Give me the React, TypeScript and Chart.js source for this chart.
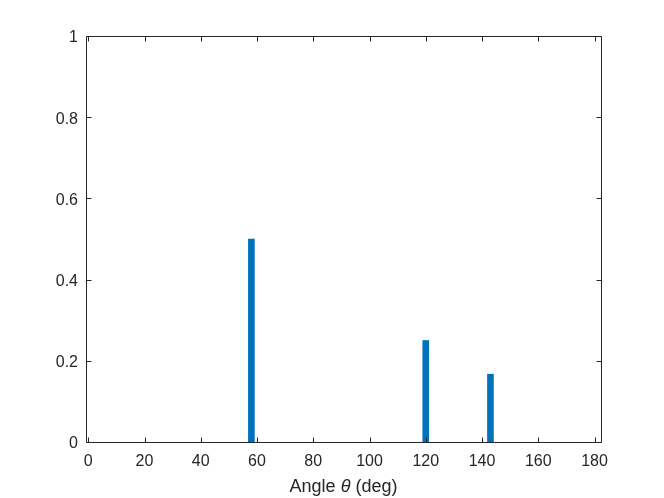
import React, { useEffect, useRef } from "react";
import { Chart, registerables } from "chart.js";

Chart.register(...registerables);

const angles = [58, 120, 143];
const values = [0.5, 0.25, 0.167];
const xTicks = [0, 20, 40, 60, 80, 100, 120, 140, 160, 180];
const yTicks = [0, 0.2, 0.4, 0.6, 0.8, 1];
const xLabelParts = ["Angle ", "θ", " (deg)"];

const AXIS = "#262626";
const FONT = "Liberation Sans, Arial, Helvetica, sans-serif";

const framePlugin = {
  id: "frame",
  afterDraw(chart: any) {
    const { ctx, chartArea } = chart;
    const { left, right, top, bottom } = chartArea;
    const xs = chart.scales.x;
    const ys = chart.scales.y;
    ctx.save();
    ctx.strokeStyle = AXIS;
    ctx.lineWidth = 1;
    ctx.beginPath();
    const L = Math.round(left) + 0.5;
    const R = Math.round(right) + 0.5;
    const T = Math.round(top) + 0.5;
    const B = Math.round(bottom) + 0.5;
    ctx.rect(L, T, R - L, B - T);
    const tl = 5;
    xTicks.forEach((v) => {
      const px = Math.round(xs.getPixelForValue(v)) + 0.5;
      ctx.moveTo(px, B);
      ctx.lineTo(px, B - tl);
      ctx.moveTo(px, T);
      ctx.lineTo(px, T + tl);
    });
    yTicks.forEach((v) => {
      const py = Math.round(ys.getPixelForValue(v)) + 0.5;
      ctx.moveTo(L, py);
      ctx.lineTo(L + tl, py);
      ctx.moveTo(R, py);
      ctx.lineTo(R - tl, py);
    });
    ctx.stroke();

    // x axis title with italic theta
    const size = 18;
    const normal = `${size}px ${FONT}`;
    const italic = `italic ${size}px ${FONT}`;
    const fonts = [normal, italic, normal];
    let total = 0;
    const widths = xLabelParts.map((t, i) => {
      ctx.font = fonts[i];
      const w = ctx.measureText(t).width;
      total += w;
      return w;
    });
    let x = (left + right) / 2 - total / 2;
    ctx.fillStyle = AXIS;
    ctx.textBaseline = "alphabetic";
    ctx.textAlign = "left";
    xLabelParts.forEach((t, i) => {
      ctx.font = fonts[i];
      ctx.fillText(t, x, 492);
      x += widths[i];
    });
    ctx.restore();
  },
};

export default function App() {
  const ref = useRef<HTMLCanvasElement>(null);
  useEffect(() => {
    if (!ref.current) return;
    const chart = new Chart(ref.current, {
      type: "bar",
      data: {
        datasets: [
          {
            data: angles.map((a, i) => ({ x: a, y: values[i] })),
            backgroundColor: "#0072BD",
            borderWidth: 0,
            barThickness: 6,
          },
        ],
      },
      options: {
        responsive: false,
        animation: false,
        events: [],
        layout: { padding: { left: 0, right: 63, top: 36, bottom: 0 } },
        plugins: {
          legend: { display: false },
          tooltip: { enabled: false },
          title: { display: false },
        },
        scales: {
          x: {
            type: "linear",
            min: -0.8,
            max: 182.3,
            offset: false,
            grid: { display: false, drawTicks: false },
            border: { display: false },
            afterBuildTicks: (s: any) => {
              s.ticks = xTicks.map((v) => ({ value: v }));
            },
            afterFit: (s: any) => {
              s.height = 56;
            },
            ticks: {
              padding: 10,
              color: AXIS,
              font: { family: FONT, size: 16 },
              maxRotation: 0,
              autoSkip: false,
              callback: (v: any) => String(v),
            },
          },
          y: {
            type: "linear",
            min: 0,
            max: 1,
            grid: { display: false, drawTicks: false },
            border: { display: false },
            afterBuildTicks: (s: any) => {
              s.ticks = yTicks.map((v) => ({ value: v }));
            },
            afterFit: (s: any) => {
              s.width = 86;
            },
            ticks: {
              padding: 8,
              labelOffset: 2,
              color: AXIS,
              font: { family: FONT, size: 16 },
              autoSkip: false,
              callback: (v: any) => String(+Number(v).toFixed(1)),
            },
          },
        },
      },
      plugins: [framePlugin],
    });
    return () => chart.destroy();
  }, []);
  return (
    <canvas
      ref={ref}
      width={664}
      height={498}
      style={{ position: "absolute", left: 0, top: 0, display: "block", background: "#fff" }}
    />
  );
}
